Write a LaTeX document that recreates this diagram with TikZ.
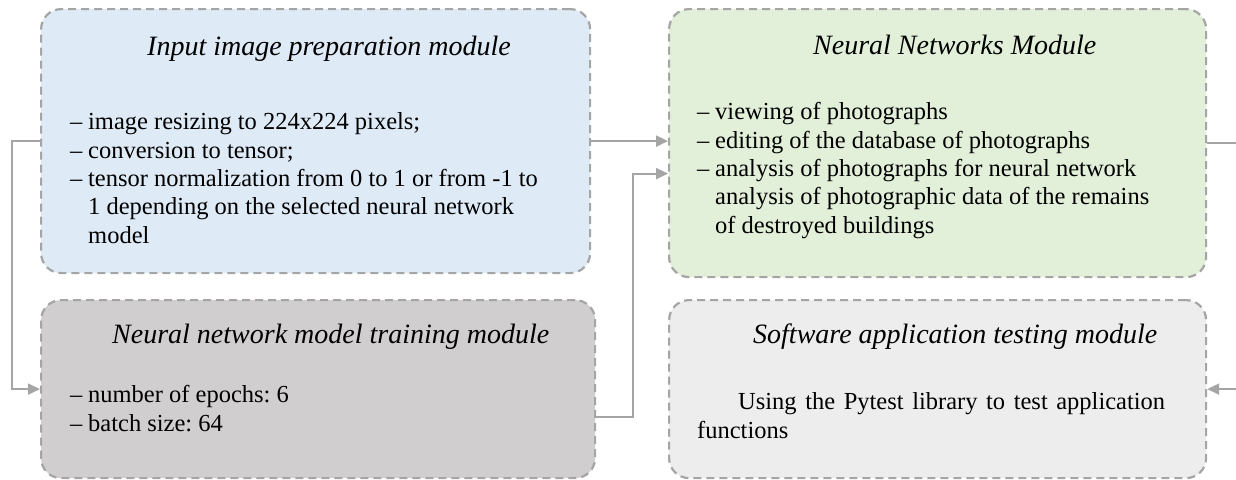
\documentclass[tikz,border=0pt]{standalone}
\usepackage{fontspec}
\setmainfont{Liberation Serif}
\usetikzlibrary{arrows.meta,positioning}
\definecolor{linegray}{HTML}{A5A5A5}
\definecolor{prepblue}{HTML}{DEEAF6}
\definecolor{nngreen}{HTML}{E2EFD9}
\definecolor{traingray}{HTML}{D0CECE}
\definecolor{testgray}{HTML}{EDEDED}
\frenchspacing
\tikzset{
  module/.style={draw=linegray, line width=2.2pt, dash pattern=on 8pt off 5pt,
    rounded corners=20pt, anchor=north west, inner sep=0pt},
  flow/.style={draw=linegray, line width=2pt, -{Triangle[length=12pt,width=11pt]}},
  title/.style={anchor=base west, inner sep=0pt, font=\fontsize{28}{32}\selectfont\itshape},
  items/.style={anchor=base west, inner sep=0pt, align=left, font=\fontsize{24.5}{28.3}\selectfont}
}
\newcommand{\itm}{\makebox[18pt][l]{–}}
\newcommand{\cont}{\hspace*{18pt}}

\begin{document}
\begin{tikzpicture}[x=1pt, y=-1pt]
    \useasboundingbox (0,0) rectangle (1236,479);

    % modules
    \node[module, fill=prepblue, minimum width=549pt, minimum height=264pt] (prep) at (40,8) {};
    \node[module, fill=traingray, minimum width=554pt, minimum height=178pt] (train) at (40,299) {};
    \node[module, fill=nngreen, minimum width=537pt, minimum height=268pt] (nn) at (668,8) {};
    \node[module, fill=testgray, minimum width=537pt, minimum height=178pt] (test) at (668,299) {};

    % titles
    \node[title] (preptitle) at (147,55) {Input image preparation module};
    \node[title] (traintitle) at (112,343) {Neural network model training module};
    \node[title] (nntitle) at (813,54) {Neural Networks Module};
    \node[title] (testtitle) at (753,343) {Software application testing module};

    % contents (anchored at the last line)
    \node[items] (prepitems) at (70,243) {\itm image resizing to 224x224 pixels;\\
      \itm conversion to tensor;\\
      \itm tensor normalization from 0 to 1 or from -1 to\\
      \cont 1 depending on the selected neural network\\
      \cont model};
    \node[items] (trainitems) at (70,431) {\itm number of epochs: 6\\
      \itm batch size: 64};
    \node[items] (nnitems) at (697,233) {\itm viewing of photographs\\
      \itm editing of the database of photographs\\
      \itm analysis of photographs for neural network\\
      \cont analysis of photographic data of the remains\\
      \cont of destroyed buildings};
    \node[items] (testitems) at (697,438) {\makebox[468pt][s]{\hspace{41pt}Using the Pytest library to test application}\\
      functions};

    % connections
    \draw[flow] (prep.east) -- (prep.east -| nn.west);
    \draw[flow] ([yshift=-28pt]train.east) -- ++(37,0) |- ([yshift=-30.5pt]nn.west);
    \draw[flow] (prep.west) -- ++(-28,0) |- (train.west);
    \draw[flow] (nn.east) -- ++(30,0) |- (test.east);
\end{tikzpicture}
\end{document}
